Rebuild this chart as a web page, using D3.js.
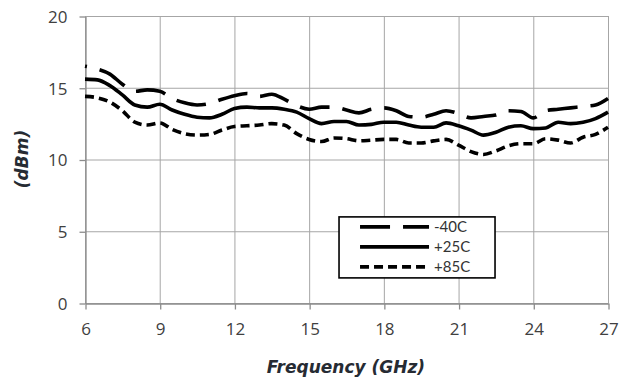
<!DOCTYPE html>
<html>
<head>
<meta charset="utf-8">
<script src="https://cdn.jsdelivr.net/npm/d3@7"></script>
<style>
  body { margin: 0; background: #fff; }
</style>
</head>
<body>
<div class="canvas"></div>
<script>
// frequency grid (GHz) and output power (dBm) per temperature
const freq = [6, 6.5, 7, 7.5, 8, 8.5, 9, 9.5, 10, 10.5, 11, 11.5, 12, 12.5, 13, 13.5, 14, 14.5,
  15, 15.5, 16, 16.5, 17, 17.5, 18, 18.5, 19, 19.5, 20, 20.5, 21, 21.5, 22, 22.5, 23, 23.5,
  24, 24.5, 25, 25.5, 26, 26.5, 27];

const powerM40 = [16.5, 16.3, 15.95, 15.25, 14.75, 14.85, 14.75, 14.25, 13.95, 13.8, 13.9, 14.2,
  14.45, 14.6, 14.4, 14.55, 14.2, 13.75, 13.5, 13.65, 13.65, 13.45, 13.25, 13.5, 13.6, 13.4,
  13.0, 12.95, 13.15, 13.4, 13.2, 12.9, 13.0, 13.1, 13.4, 13.35, 12.9, 13.4, 13.5, 13.6,
  13.7, 13.8, 14.25];

const power25 = [15.6, 15.55, 15.15, 14.5, 13.8, 13.65, 13.85, 13.45, 13.15, 12.95, 12.9, 13.15,
  13.55, 13.65, 13.6, 13.6, 13.5, 13.3, 12.85, 12.5, 12.65, 12.65, 12.4, 12.45, 12.6, 12.6,
  12.4, 12.25, 12.25, 12.55, 12.35, 12.05, 11.7, 11.9, 12.25, 12.35, 12.15, 12.2, 12.6, 12.5,
  12.6, 12.85, 13.3];

const power85 = [14.4, 14.3, 14.0, 13.4, 12.6, 12.4, 12.55, 12.1, 11.8, 11.7, 11.75, 12.05,
  12.3, 12.35, 12.4, 12.5, 12.4, 11.8, 11.4, 11.25, 11.5, 11.45, 11.3, 11.35, 11.4, 11.4,
  11.15, 11.15, 11.3, 11.4, 11.0, 10.55, 10.35, 10.6, 10.95, 11.1, 11.1, 11.45, 11.35, 11.15,
  11.55, 11.75, 12.25];

const seriesNames = ["-40C", "+25C", "+85C"];
const xTicks = [6, 9, 12, 15, 18, 21, 24, 27];
const yTicks = [0, 5, 10, 15, 20];

const series = [
  { name: seriesNames[0], values: powerM40, dash: "30,13", offset: 28 },
  { name: seriesNames[1], values: power25, dash: null, offset: 0 },
  { name: seriesNames[2], values: power85, dash: "9,5", offset: 0 },
];

const width = 628;
const height = 380;
const margin = { top: 16, right: 20, bottom: 77, left: 85 };
const graphWidth = width - margin.left - margin.right;
const graphHeight = height - margin.top - margin.bottom;

const svg = d3
  .select(".canvas")
  .append("svg")
  .attr("width", width)
  .attr("height", height);

const graph = svg
  .append("g")
  .attr("transform", `translate(${margin.left}, ${margin.top})`);

const x = d3.scaleLinear().domain([6, 27]).range([0, graphWidth]);
const y = d3.scaleLinear().domain([0, 20]).range([graphHeight, 0]);

// grid lines
const grid = graph.append("g").attr("class", "grid");
grid
  .selectAll("line.v")
  .data(xTicks)
  .enter()
  .append("line")
  .attr("x1", (d) => x(d) + 0.5)
  .attr("x2", (d) => x(d) + 0.5)
  .attr("y1", 0)
  .attr("y2", graphHeight)
  .attr("stroke", "#a6a6a6")
  .attr("stroke-width", 1);

grid
  .selectAll("line.h")
  .data(yTicks)
  .enter()
  .append("line")
  .attr("x1", 0)
  .attr("x2", graphWidth)
  .attr("y1", (d) => y(d) + 0.5)
  .attr("y2", (d) => y(d) + 0.5)
  .attr("stroke", "#a6a6a6")
  .attr("stroke-width", 1);

// axes
const xAxisGroup = graph
  .append("g")
  .attr("transform", `translate(0.5, ${graphHeight + 0.5})`)
  .call(d3.axisBottom(x).tickValues(xTicks).tickSize(6).tickPadding(13).tickSizeOuter(0));

const yAxisGroup = graph
  .append("g")
  .attr("transform", "translate(0.5, 0.5)")
  .call(d3.axisLeft(y).tickValues(yTicks).tickSize(6).tickPadding(12).tickSizeOuter(0));

[xAxisGroup, yAxisGroup].forEach((g) => {
  g.select(".domain").attr("stroke", "#8c8c8c").attr("stroke-width", 1.3);
  g.selectAll(".tick line").attr("stroke", "#8c8c8c").attr("stroke-width", 1.3);
  g.selectAll(".tick text")
    .attr("fill", "#404040")
    .style("font-family", "'Open Sans', sans-serif")
    .style("font-size", "17px");
});
yAxisGroup.selectAll(".tick text").attr("dy", "0.35em");

// lines
const line = d3
  .line()
  .x((d, i) => x(freq[i]))
  .y((d) => y(d))
  .curve(d3.curveMonotoneX);

graph
  .selectAll("path.series")
  .data(series)
  .enter()
  .append("path")
  .attr("class", "series")
  .attr("fill", "none")
  .attr("stroke", "#000")
  .attr("stroke-width", 3.6)
  .attr("stroke-linejoin", "round")
  .attr("stroke-dasharray", (d) => d.dash)
  .attr("stroke-dashoffset", (d) => d.offset)
  .attr("d", (d) => line(d.values));

// legend
const legend = graph.append("g").attr("transform", `translate(${x(16.2)}, ${y(6)})`);
legend
  .append("rect")
  .attr("x", 0)
  .attr("y", 0)
  .attr("width", 156)
  .attr("height", 61)
  .attr("fill", "#fff")
  .attr("stroke", "#000")
  .attr("stroke-width", 1.6);

series.forEach((s, i) => {
  const ly = 10 + i * 20;
  legend
    .append("line")
    .attr("x1", 21)
    .attr("x2", 90)
    .attr("y1", ly)
    .attr("y2", ly)
    .attr("stroke", "#000")
    .attr("stroke-width", 3.6)
    .attr("stroke-dasharray", s.dash);
  legend
    .append("text")
    .attr("x", 95)
    .attr("y", ly)
    .attr("dy", "0.35em")
    .attr("fill", "#333")
    .style("font-family", "Lato, sans-serif")
    .style("font-size", "15px")
    .text(s.name);
});

// axis titles
svg
  .append("text")
  .attr("x", 346)
  .attr("y", 373)
  .attr("text-anchor", "middle")
  .attr("fill", "#262b33")
  .style("font-family", "'DejaVu Sans', sans-serif")
  .style("font-weight", "bold")
  .style("font-style", "italic")
  .style("font-size", "17px")
  .text("Frequency (GHz)");

svg
  .append("text")
  .attr("transform", "translate(28, 159) rotate(-90)")
  .attr("text-anchor", "middle")
  .attr("fill", "#262b33")
  .style("font-family", "'DejaVu Sans', sans-serif")
  .style("font-weight", "bold")
  .style("font-style", "italic")
  .style("font-size", "17px")
  .text("(dBm)");
</script>
</body>
</html>
